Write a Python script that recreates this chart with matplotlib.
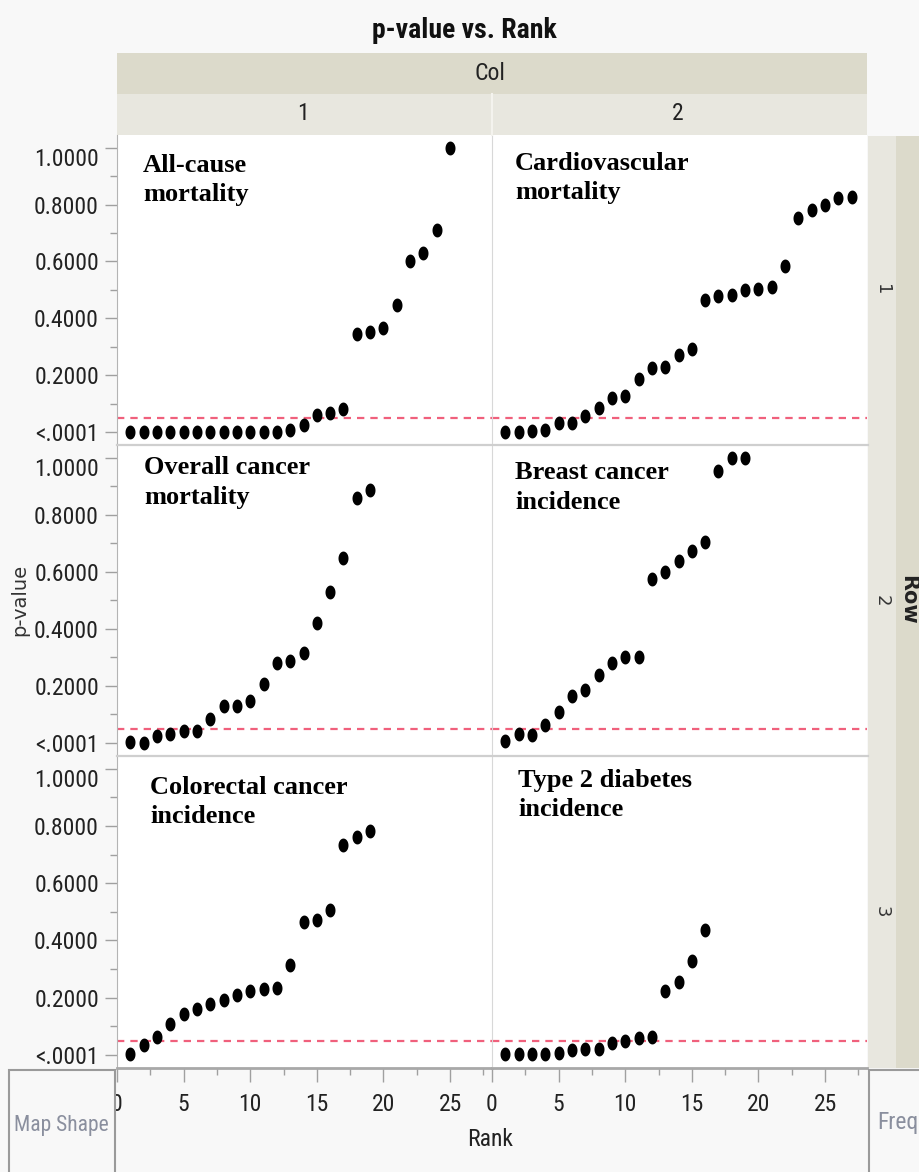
import numpy as np
import matplotlib
matplotlib.use("Agg")
import matplotlib.pyplot as plt
from matplotlib import font_manager
from matplotlib.path import Path
from matplotlib.patches import Rectangle
from matplotlib.lines import Line2D

# -------------------
# 1. DATA
# -------------------
all_cause = [0.000, 0.000, 0.000, 0.000, 0.000, 0.000, 0.000, 0.000, 0.000, 0.000,
             0.000, 0.001, 0.008, 0.024, 0.061, 0.068, 0.080, 0.344, 0.353, 0.365,
             0.445, 0.603, 0.630, 0.711, 1.000]
cardio = [0.000, 0.000, 0.002, 0.008, 0.033, 0.033, 0.055, 0.085, 0.118, 0.126,
          0.185, 0.224, 0.227, 0.271, 0.291, 0.465, 0.479, 0.483, 0.498, 0.504,
          0.510, 0.583, 0.752, 0.780, 0.799, 0.822, 0.825]
overall_cancer = [0.003, 0.000, 0.023, 0.033, 0.043, 0.043, 0.084, 0.131, 0.131, 0.148,
                  0.206, 0.281, 0.288, 0.314, 0.419, 0.529, 0.648, 0.858, 0.886]
breast_cancer = [0.006, 0.031, 0.029, 0.064, 0.108, 0.165, 0.186, 0.238, 0.279, 0.302,
                 0.302, 0.576, 0.601, 0.637, 0.674, 0.703, 0.953, 0.998, 0.998]
colorectal = [0.002, 0.035, 0.063, 0.108, 0.143, 0.161, 0.178, 0.192, 0.210, 0.225,
              0.229, 0.235, 0.316, 0.466, 0.471, 0.507, 0.734, 0.763, 0.781]
diabetes = [0.002, 0.002, 0.002, 0.002, 0.005, 0.016, 0.020, 0.020, 0.043, 0.049,
            0.059, 0.061, 0.225, 0.255, 0.329, 0.437]

panel_series = [[all_cause, cardio],
                [overall_cancer, breast_cancer],
                [colorectal, diabetes]]
panel_labels = [["All-cause\nmortality", "Cardiovascular\nmortality"],
                ["Overall cancer\nmortality", "Breast cancer\nincidence"],
                ["Colorectal cancer\nincidence", "Type 2 diabetes\nincidence"]]
# label anchor (rank, p-value at the baseline of the second line)
label_pos = [[(1.95, 0.812), (1.73, 0.819)],
             [(2.03, 0.839), (1.73, 0.822)],
             [(2.48, 0.810), (1.95, 0.835)]]

y_ticks = [0.0, 0.2, 0.4, 0.6, 0.8, 1.0]
y_tick_labels = ["<.0001", "0.2000", "0.4000", "0.6000", "0.8000", "1.0000"]
x_ticks = [0, 5, 10, 15, 20, 25]
ALPHA = 0.05

# -------------------
# 2. LAYOUT / STYLE
# -------------------
W, H = 920, 1172
BG = "#f8f8f8"
BAND_DARK = "#dcdacb"
BAND_LIGHT = "#e8e7df"
GRID_GRAY = "#b4b4b4"

available = {f.name for f in font_manager.fontManager.ttflist}
UI_FONT, UI_SIZE = "DejaVu Sans", 12
for name, size in [("Liberation Sans Narrow", 17), ("Roboto Condensed", 17),
                   ("DejaVu Sans Condensed", 14)]:
    if name in available:
        UI_FONT, UI_SIZE = name, size
        break
SERIF = ["Liberation Serif", "DejaVu Serif"]

col_px = [(117, 492), (492, 867)]
row_px = [(135, 445), (445, 756), (756, 1068)]
XLIM = (0, 28.15)
YLIM = (-0.0457, 1.0447)

fig = plt.figure(figsize=(W / 100, H / 100), dpi=100, facecolor=BG)


def frac_rect(x0, y0, x1, y1, color, z=0, **kw):
    r = Rectangle((x0 / W, 1 - y1 / H), (x1 - x0) / W, (y1 - y0) / H,
                  transform=fig.transFigure, facecolor=color, zorder=z, **kw)
    fig.add_artist(r)


def frac_line(x0, y0, x1, y1, **kw):
    fig.add_artist(Line2D([x0 / W, x1 / W], [1 - y0 / H, 1 - y1 / H],
                          transform=fig.transFigure, **kw))


def ftext(x, y, s, **kw):
    fig.text(x / W, 1 - y / H, s, **kw)


# header bands
frac_rect(117, 53, 867, 94, BAND_DARK, edgecolor="none")
frac_rect(117, 94, 867, 135, BAND_LIGHT, edgecolor="none")
frac_line(492, 94, 492, 135, color="#f4f3ee", lw=1.5)
# row strips on the right
frac_rect(868, 136, 896, 1068, BAND_LIGHT, edgecolor="none")
frac_rect(896, 136, 920, 1068, BAND_DARK, edgecolor="none")

ftext(464, 30, "p-value vs. Rank", family=UI_FONT, fontsize=UI_SIZE + 3,
      weight="bold", ha="center", va="center", color="#111111")
ftext(490, 74, "Col", family=UI_FONT, fontsize=UI_SIZE, ha="center", va="center",
      color="#222222")
for c, (x0, x1) in enumerate(col_px):
    ftext((x0 + x1) / 2 - 2, 114, str(c + 1), family=UI_FONT, fontsize=UI_SIZE,
          ha="center", va="center", color="#222222")
for r, (y0, y1) in enumerate(row_px):
    ftext(882, (y0 + y1) / 2, str(r + 1), family="DejaVu Sans", fontsize=13,
          rotation=270, ha="center", va="center", color="#333333")
ftext(908, 600, "Row", family="DejaVu Sans", fontsize=15, weight="bold",
      rotation=270, ha="center", va="center", color="#222222")
ftext(20, 600, "p-value", family="DejaVu Sans", fontsize=14, rotation=90,
      ha="center", va="center", color="#333333")
ftext(490, 1140, "Rank", family=UI_FONT, fontsize=UI_SIZE, ha="center",
      va="center", color="#222222")

# bottom corner boxes
frac_rect(9, 1070, 115, 1180, BG, edgecolor="#9a9a9a", lw=1.5, z=1)
frac_rect(869, 1070, 930, 1180, BG, edgecolor="#9a9a9a", lw=1.5, z=1)
ftext(61, 1125, "Map Shape", family=UI_FONT, fontsize=UI_SIZE - 1.5,
      ha="center", va="center", color="#8a8f9e", zorder=2)
ftext(877, 1123, "Freq", family=UI_FONT, fontsize=UI_SIZE, ha="left",
      va="center", color="#8a8f9e", zorder=2)

# ellipse marker (a bit taller than wide, like the JMP dots)
theta = np.linspace(0, 2 * np.pi, 48)
dot = Path(np.column_stack([0.72 * np.cos(theta), np.sin(theta)]))

# -------------------
# 3. PANELS
# -------------------
for r, (y0, y1) in enumerate(row_px):
    for c, (x0, x1) in enumerate(col_px):
        ax = fig.add_axes([x0 / W, 1 - y1 / H, (x1 - x0) / W, (y1 - y0) / H])
        ax.set_facecolor("white")
        vals = panel_series[r][c]
        ranks = np.arange(1, len(vals) + 1)
        ax.plot(ranks, vals, ls="none", marker=dot, ms=10, color="black",
                markeredgewidth=0, zorder=3)
        ax.axhline(ALPHA, color="#f0607c", lw=1.6, ls=(0, (3.3, 2.7)), zorder=2)
        lx, ly = label_pos[r][c]
        ax.text(lx, ly, panel_labels[r][c], family=SERIF, fontsize=19,
                weight="bold", ha="left", va="baseline", linespacing=1.36,
                color="black", zorder=4)
        ax.set_xlim(*XLIM)
        ax.set_ylim(*YLIM)
        for s in ax.spines.values():
            s.set_visible(False)

        if c == 0:
            ax.spines["left"].set_visible(True)
            ax.spines["left"].set_color(GRID_GRAY)
            ax.set_yticks(y_ticks)
            ax.set_yticklabels(y_tick_labels, family=UI_FONT, fontsize=UI_SIZE,
                               color="#222222")
            ax.set_yticks(np.arange(0.1, 1.0, 0.2), minor=True)
            ax.get_yticklabels()[-1].set_va("top")
            ax.tick_params(axis="y", which="major", length=9, width=1,
                           color="#a0a0a0", pad=4)
            ax.tick_params(axis="y", which="minor", length=5, width=1,
                           color="#a0a0a0")
        else:
            ax.set_yticks([])
            ax.spines["left"].set_visible(True)
            ax.spines["left"].set_color("#d8d8d8")

        if r == len(row_px) - 1:
            ax.spines["bottom"].set_visible(True)
            ax.spines["bottom"].set_color("#a8a8a8")
            ax.spines["bottom"].set_linewidth(2)
            ax.set_xticks(x_ticks)
            ax.set_xticklabels([str(t) for t in x_ticks], family=UI_FONT,
                               fontsize=UI_SIZE, color="#222222")
            ax.set_xticks(np.arange(2.5, 28, 5), minor=True)
            ax.tick_params(axis="x", which="major", length=10, width=1,
                           color="#a0a0a0", pad=8)
            ax.tick_params(axis="x", which="minor", length=5, width=1,
                           color="#a0a0a0")
        else:
            ax.set_xticks([])

# row separators
for y in [row_px[0][1], row_px[1][1]]:
    frac_line(117, y, 868, y, color="#cfcfcf", lw=1.6, zorder=5)

fig.savefig("out.png", dpi=100, facecolor=BG)
